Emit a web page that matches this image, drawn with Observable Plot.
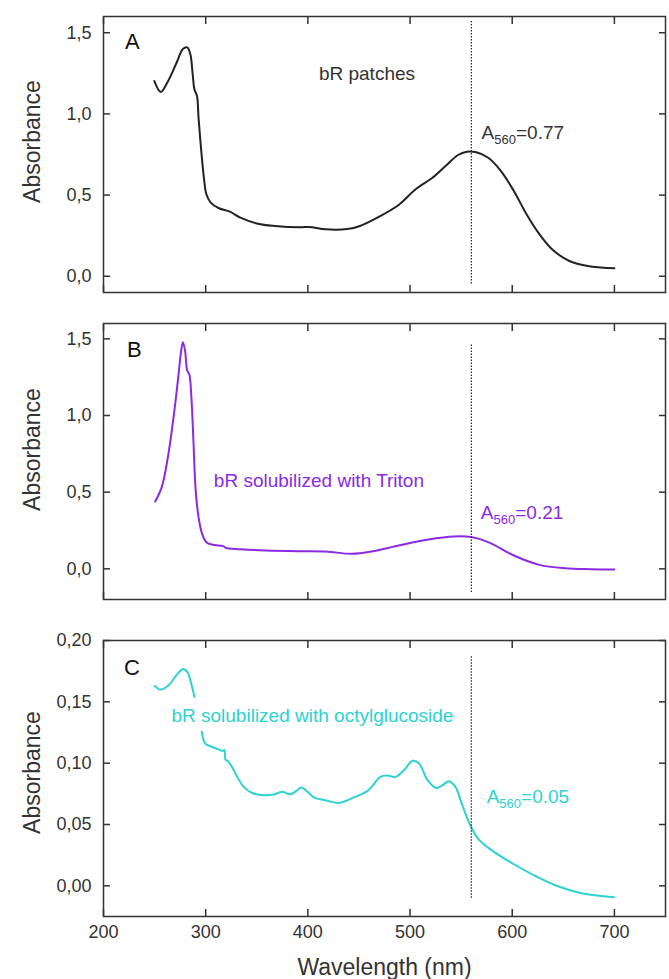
<!DOCTYPE html>
<html>
<head>
<meta charset="utf-8">
<script src="https://cdn.jsdelivr.net/npm/d3@7"></script>
<script src="https://cdn.jsdelivr.net/npm/@observablehq/plot@0.6"></script>
<style>
  body { margin: 0; background: #fff; }
  #chart svg { display: block; }
</style>
</head>
<body>
<div id="chart"></div>
<script>
// ---------- Data ----------
const xTicks = [200, 300, 400, 500, 600, 700];

// Panel A: bR patches
const wavelengthA = [249.7, 256, 263, 271.5, 277.7, 282, 285, 287.3, 289, 291.5, 293, 295.7, 298.6, 300.7, 304.9, 313, 323.7, 334, 351, 367.6, 392.6, 401, 417.7, 438.6, 451, 468, 488.8, 505.5, 522, 534.7, 547, 555.6, 564, 576.5, 589, 601.6, 614, 626.6, 639, 655.9, 676.8, 700];
const absorbanceA = [1.203, 1.135, 1.20, 1.315, 1.40, 1.41, 1.367, 1.244, 1.151, 1.11, 0.977, 0.77, 0.587, 0.505, 0.454, 0.419, 0.398, 0.361, 0.324, 0.31, 0.302, 0.304, 0.289, 0.291, 0.31, 0.361, 0.439, 0.536, 0.607, 0.679, 0.747, 0.767, 0.765, 0.73, 0.648, 0.525, 0.382, 0.259, 0.166, 0.094, 0.06, 0.049];

// Panel B: bR solubilized with Triton
const wavelengthB = [250.6, 257, 263, 269.4, 273.5, 275.6, 277.7, 279.8, 281.9, 284, 286, 288, 290, 293, 296.5, 300.7, 307, 317.4, 319.5, 334, 359, 392.6, 417.7, 442.8, 463.7, 488.8, 518, 543, 559.8, 576.5, 601.6, 626.6, 651.7, 676.8, 700];
const absorbanceB = [0.439, 0.533, 0.728, 1.033, 1.272, 1.402, 1.478, 1.424, 1.293, 1.267, 1.12, 0.837, 0.533, 0.337, 0.228, 0.174, 0.157, 0.148, 0.137, 0.128, 0.12, 0.115, 0.113, 0.098, 0.115, 0.152, 0.191, 0.211, 0.207, 0.174, 0.087, 0.026, 0.004, -0.002, -0.004];

// Panel C: bR solubilized with octylglucoside (null = gap behind the label)
const wavelengthC = [250.2, 255.6, 264, 272.4, 277.8, 282, 285.8, 289, 292.5, 296.2, 299.6, 305.9, 312, 316.3, 318.4, 319.2, 321.3, 324.7, 331, 337.2, 345.6, 358, 366.5, 374.9, 383, 389.5, 393.7, 397.9, 406.3, 416.7, 429.3, 433.5, 446, 458.6, 471, 477.4, 485.8, 494.1, 502.5, 508.8, 517.2, 525.5, 531.8, 538, 544.4, 550.6, 559, 567.4, 580, 600.8, 621.8, 642.7, 667.8, 699.6];
const absorbanceC = [0.163, 0.160, 0.1638, 0.1728, 0.1768, 0.1744, 0.165, 0.154, null, 0.1256, 0.116, 0.1134, 0.1114, 0.11, 0.1106, 0.103, 0.102, 0.0984, 0.0888, 0.0807, 0.0757, 0.0738, 0.0744, 0.0766, 0.0747, 0.0779, 0.0801, 0.0779, 0.0719, 0.0698, 0.0676, 0.0681, 0.0725, 0.0774, 0.0888, 0.0899, 0.0888, 0.0943, 0.1019, 0.0997, 0.0861, 0.0798, 0.082, 0.0853, 0.0807, 0.067, 0.0493, 0.0376, 0.0289, 0.018, 0.0084, 0.0003, -0.006, -0.0093];

// Annotations
const panelLetters = ["A", "B", "C"];
const panelLabels = ["bR patches", "bR solubilized with Triton", "bR solubilized with octylglucoside"];
const a560Notes = ["A560=0.77", "A560=0.21", "A560=0.05"];
const markerWavelength = 560;

// ---------- Styling ----------
const FONT = "'Liberation Sans', Arial, Helvetica, sans-serif";
const INK = "#333333";
const colors = ["#222222", "#8a2be2", "#2dd2d2"];
const comma = (f) => (d) => d3.format(f)(d).replace(".", ",");
const blank = () => "";
const TICK = 7;

function panel(cfg) {
  const data = cfg.x.map((w, i) => ({ w, a: cfg.y[i] }));
  const marks = [
    Plot.line(data, { x: "w", y: "a", stroke: cfg.color, strokeWidth: 2, curve: "catmull-rom" }),
    Plot.ruleX([{ x: markerWavelength, y1: cfg.markY[0], y2: cfg.markY[1] }],
      { x: "x", y1: "y1", y2: "y2", stroke: INK, strokeWidth: 1.3, strokeDasharray: "1.5,1.5" }),
    Plot.frame({ stroke: INK, strokeWidth: 1.5 }),
    // inward tick marks on all four sides
    Plot.axisY({ anchor: "left", ticks: cfg.yTicks, tickSize: TICK, dx: TICK, tickFormat: blank, label: null, color: INK, strokeWidth: 1.5 }),
    Plot.axisY({ anchor: "right", ticks: cfg.yTicks, tickSize: TICK, dx: -TICK, tickFormat: blank, label: null, color: INK, strokeWidth: 1.5 }),
    Plot.axisX({ anchor: "top", ticks: xTicks, tickSize: TICK, dy: TICK, tickFormat: blank, label: null, color: INK, strokeWidth: 1.5 }),
    Plot.axisX({ anchor: "bottom", ticks: xTicks, tickSize: TICK, dy: -TICK, tickFormat: blank, label: null, color: INK, strokeWidth: 1.5 }),
    // tick labels
    Plot.axisY({ anchor: "left", ticks: cfg.yTicks, tickSize: 0, tickPadding: 12, tickFormat: cfg.yFormat, label: null, color: INK, fontSize: 18 }),
    Plot.text(["Absorbance"], { frameAnchor: "left", textAnchor: "middle", lineAnchor: "middle", dx: -71, dy: cfg.titleDy, rotate: -90, fontSize: 23, fill: INK }),
    Plot.text([{ x: cfg.letterPos[0], y: cfg.letterPos[1], t: cfg.letter }], { x: "x", y: "y", text: "t", textAnchor: "start", fontSize: 22, fill: "#111" }),
    Plot.text([{ x: cfg.labelPos[0], y: cfg.labelPos[1], t: cfg.label }], { x: "x", y: "y", text: "t", textAnchor: "start", fontSize: 19, fill: cfg.labelColor }),
    Plot.text([{ x: cfg.notePos[0], y: cfg.notePos[1], t: cfg.note }], { x: "x", y: "y", text: "t", textAnchor: "start", fontSize: 19, fill: cfg.labelColor })
  ];
  if (cfg.showX) {
    marks.push(Plot.axisX({ anchor: "bottom", ticks: xTicks, tickSize: 0, tickPadding: 9, tickFormat: (d) => String(d), label: null, color: INK, fontSize: 18 }));
    marks.push(Plot.text(["Wavelength (nm)"], { frameAnchor: "bottom", lineAnchor: "middle", dy: 51, fontSize: 23, fill: INK }));
  }
  return Plot.plot({
    width: 669,
    height: cfg.height,
    marginLeft: 103,
    marginRight: 4,
    marginTop: cfg.marginTop,
    marginBottom: cfg.marginBottom,
    style: { fontFamily: FONT, color: INK, background: "#fff", overflow: "visible" },
    x: { domain: [200, 750] },
    y: { domain: cfg.yDomain },
    marks
  });
}

const chart = document.getElementById("chart");
chart.append(panel({
  x: wavelengthA, y: absorbanceA, color: colors[0],
  yDomain: [-0.1, 1.6], yTicks: [0, 0.5, 1, 1.5], yFormat: comma(".1f"),
  letter: panelLetters[0], letterPos: [221, 1.443],
  label: panelLabels[0], labelPos: [410.8, 1.248], labelColor: INK,
  note: a560Notes[0], notePos: [570, 0.886],
  markY: [-0.047, 1.575],
  height: 307, marginTop: 16, marginBottom: 15, showX: false, titleDy: -13
}));
chart.append(panel({
  x: wavelengthB, y: absorbanceB, color: colors[1],
  yDomain: [-0.2, 1.6], yTicks: [0, 0.5, 1, 1.5], yFormat: comma(".1f"),
  letter: panelLetters[1], letterPos: [223, 1.427],
  label: panelLabels[1], labelPos: [308, 0.576], labelColor: colors[1],
  note: a560Notes[1], notePos: [569.3, 0.367],
  markY: [-0.155, 1.47],
  height: 312, marginTop: 16, marginBottom: 20, showX: false, titleDy: -12
}));
chart.append(panel({
  x: wavelengthC, y: absorbanceC, color: colors[2],
  yDomain: [-0.025, 0.2], yTicks: [0, 0.05, 0.1, 0.15, 0.2], yFormat: comma(".2f"),
  letter: panelLetters[2], letterPos: [220, 0.1776],
  label: panelLabels[2], labelPos: [266.5, 0.1384], labelColor: colors[2],
  note: a560Notes[2], notePos: [575, 0.0723],
  markY: [-0.0101, 0.188],
  height: 360, marginTop: 21, marginBottom: 63, showX: true, titleDy: -6
}));

// Subscript "560" in the A560 annotations
const NS = "http://www.w3.org/2000/svg";
for (const t of chart.querySelectorAll("text")) {
  const m = /^A(\d{3})(=.*)$/.exec(t.textContent);
  if (!m) continue;
  t.textContent = "A";
  const sub = document.createElementNS(NS, "tspan");
  sub.setAttribute("font-size", "13");
  sub.setAttribute("dy", "5");
  sub.textContent = m[1];
  const rest = document.createElementNS(NS, "tspan");
  rest.setAttribute("font-size", "19");
  rest.setAttribute("dy", "-5");
  rest.textContent = m[2];
  t.append(sub, rest);
}
</script>
</body>
</html>
